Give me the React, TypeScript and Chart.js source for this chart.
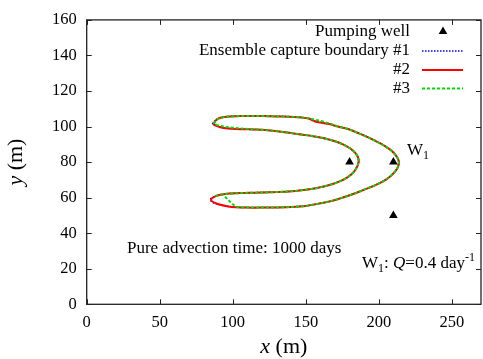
import React, { useEffect, useRef } from 'react';
import { Chart, registerables } from 'chart.js';

Chart.register(...registerables);

const FONT = '"Liberation Serif", "DejaVu Serif", serif';

const xTicks = [0, 50, 100, 150, 200, 250];
const yTicks = [0, 20, 40, 60, 80, 100, 120, 140, 160];
const xRange = [0, 270];
const yRange = [0, 160];

const wellX = [180, 210, 210];
const wellY = [80, 80, 50];

const legendLabels = ['Pumping well', 'Ensemble capture boundary #1', '#2', '#3'];
const seriesColors = ['#0000ff', '#ff0000', '#00dd00'];

const boundary1: [number, number][] = [
  [86.0, 101.5], [88.0, 103.5], [91, 104.9], [96, 105.6], [105, 106.0], [115, 106.1], [125, 105.9], [135, 105.7],
  [145, 105.4], [152, 104.6], [156, 103.2], [160, 102.4], [166, 101.5], [172, 100.1], [179, 98.7], [186, 96.4],
  [192, 94.3], [197, 92.3], [201, 90.6], [205, 88.7], [208.5, 86.7], [211.3, 84.3], [213.2, 81.9], [213.8, 79.6],
  [213.1, 77.2], [211.3, 74.8], [208, 72.1], [203.5, 69.4], [197, 66.8], [190, 64.5], [183, 62.2], [176, 60.2],
  [168, 58.2], [160, 56.8], [150, 55.3], [140, 54.7], [130, 54.5], [120, 54.4], [110, 54.4], [102, 54.6],
  [96, 55.2], [91, 56.0], [87, 57.0], [84.5, 58.5], [85.2, 59.6], [88, 60.8], [91.5, 61.6], [96, 62.2],
  [105, 62.6], [115, 62.8], [125, 63.0], [135, 63.3], [143, 63.8], [150, 64.4], [157, 65.3], [163, 66.4],
  [169, 67.8], [174, 69.4], [178, 71.1], [181.3, 73.1], [183.8, 75.4], [185.6, 78.1], [186.3, 80.6], [185.6, 83.1],
  [183.6, 85.5], [180.3, 87.8], [175.5, 90.0], [169.5, 91.9], [162.5, 93.4], [155, 94.6], [148, 95.4], [140, 96.3],
  [132, 97.2], [124, 97.9], [116, 98.3], [108, 98.5], [100, 98.7], [94, 99.2], [89.5, 100.2], [87.0, 100.9], [86.0, 101.5],
];

const boundary2: [number, number][] = [
  [86.8, 101.6], [88.5, 103.5], [91, 104.8], [96, 105.5], [105, 105.9], [115, 106.0], [125, 105.8], [135, 105.6],
  [145, 105.3], [152, 104.5], [156, 103.0], [160, 102.2], [166, 101.4], [172, 100.0], [179, 98.6], [186, 96.3],
  [192, 94.2], [197, 92.2], [201, 90.5], [205, 88.6], [208.5, 86.6], [211.3, 84.2], [213.2, 81.8], [213.8, 79.6],
  [213.1, 77.2], [211.3, 74.8], [208, 72.1], [203.5, 69.4], [197, 66.8], [190, 64.5], [183, 62.2], [176, 60.2],
  [168, 58.2], [160, 56.8], [150, 55.3], [140, 54.7], [130, 54.5], [120, 54.4], [110, 54.4], [102, 54.6],
  [96, 55.2], [91, 56.1], [87.5, 57.2], [85.2, 58.4], [85.6, 59.5], [88, 60.7], [91.5, 61.6], [96, 62.2],
  [105, 62.6], [115, 62.8], [125, 63.0], [135, 63.3], [143, 63.8], [150, 64.4], [157, 65.3], [163, 66.4],
  [169, 67.8], [174, 69.4], [178, 71.1], [181.3, 73.1], [183.8, 75.4], [185.6, 78.1], [186.3, 80.6], [185.6, 83.1],
  [183.6, 85.5], [180.3, 87.8], [175.5, 90.0], [169.5, 91.9], [162.5, 93.4], [155, 94.6], [148, 95.4], [140, 96.3],
  [132, 97.2], [124, 97.9], [116, 98.3], [108, 98.5], [100, 98.7], [94, 99.2], [89.5, 100.2], [87.5, 100.9], [86.8, 101.6],
];

const boundary3: [number, number][] = [
  [88.2, 60.9], [91.5, 61.7], [96, 62.2], [105, 62.6], [115, 62.8], [125, 63.0], [135, 63.3], [143, 63.8],
  [150, 64.4], [157, 65.3], [163, 66.4], [169, 67.8], [174, 69.4], [178, 71.1], [181.3, 73.1], [183.8, 75.4],
  [185.6, 78.1], [186.3, 80.6], [185.6, 83.1], [183.6, 85.5], [180.3, 87.8], [175.5, 90.0], [169.5, 91.9],
  [162.5, 93.4], [155, 94.6], [148, 95.4], [140, 96.3], [132, 97.2], [124, 97.9], [116, 98.4], [108, 98.8],
  [100, 99.3], [95, 99.8], [91, 100.4], [88.5, 101.0], [87.3, 101.8], [88.8, 103.7], [91.5, 104.9], [96, 105.6],
  [105, 105.9], [115, 106.0], [125, 105.8], [135, 105.6], [145, 105.3], [152, 104.6], [156, 103.9], [160, 103.3],
  [166, 101.8], [172, 100.1], [179, 98.6], [186, 96.3], [192, 94.2], [197, 92.2], [201, 90.5], [205, 88.6],
  [208.5, 86.6], [211.3, 84.2], [213.2, 81.8], [213.8, 79.6], [213.1, 77.2], [211.3, 74.8], [208, 72.1],
  [203.5, 69.4], [197, 66.8], [190, 64.5], [183, 62.2], [176, 60.2], [168, 58.2], [160, 56.8], [150, 55.3],
  [140, 54.7], [130, 54.5], [120, 54.4], [110, 54.4], [102.5, 54.8], [99.5, 56.6], [96.5, 59.0], [93.8, 61.3],
];

const toPoints = (arr: [number, number][]) => arr.map(([x, y]) => ({ x, y }));

function drawRich(ctx: CanvasRenderingContext2D, parts: { t: string; italic?: boolean; sub?: boolean; sup?: boolean }[], x: number, y: number, size: number, align: 'left' | 'right' | 'center') {
  const fontFor = (p: any) => `${p.italic ? 'italic ' : ''}${p.sub || p.sup ? Math.round(size * 0.7) : size}px ${FONT}`;
  let total = 0;
  for (const p of parts) { ctx.font = fontFor(p); total += ctx.measureText(p.t).width; }
  let cx = align === 'left' ? x : align === 'right' ? x - total : x - total / 2;
  ctx.textAlign = 'left';
  ctx.textBaseline = 'middle';
  for (const p of parts) {
    ctx.font = fontFor(p);
    const dy = p.sub ? size * 0.3 : p.sup ? -size * 0.35 : 0;
    ctx.fillText(p.t, cx, y + dy);
    cx += ctx.measureText(p.t).width;
  }
}

function triangle(ctx: CanvasRenderingContext2D, x: number, y: number, r: number) {
  ctx.beginPath();
  for (let i = 0; i < 3; i++) {
    const a = (i * 2 * Math.PI) / 3;
    const px = x + Math.sin(a) * r, py = y - Math.cos(a) * r;
    if (i === 0) ctx.moveTo(px, py); else ctx.lineTo(px, py);
  }
  ctx.closePath();
  ctx.fill();
}

const decor = {
  id: 'decor',
  afterDraw(chart: any) {
    const ctx: CanvasRenderingContext2D = chart.ctx;
    const { left, right, top, bottom } = chart.chartArea;
    const xs = chart.scales.x, ys = chart.scales.y;
    ctx.save();
    ctx.strokeStyle = '#222';
    ctx.lineWidth = 1.3;
    ctx.strokeRect(left, top, right - left, bottom - top);
    ctx.lineWidth = 1;
    ctx.beginPath();
    const tl = 5;
    for (const v of xTicks) {
      const px = Math.round(xs.getPixelForValue(v)) + 0.5;
      ctx.moveTo(px, bottom); ctx.lineTo(px, bottom - tl);
      ctx.moveTo(px, top); ctx.lineTo(px, top + tl);
    }
    for (const v of yTicks) {
      const py = Math.round(ys.getPixelForValue(v)) + 0.5;
      ctx.moveTo(left, py); ctx.lineTo(left + tl, py);
      ctx.moveTo(right, py); ctx.lineTo(right - tl, py);
    }
    ctx.stroke();

    ctx.fillStyle = '#000';
    // Legend
    const lx = 410, sx0 = 422, sx1 = 463;
    const rows = [32, 51, 70, 88.5];
    ctx.font = `17px ${FONT}`;
    ctx.textAlign = 'right';
    ctx.textBaseline = 'middle';
    legendLabels.forEach((t, i) => ctx.fillText(t, lx, rows[i]));
    triangle(ctx, 443, 31.5, 5);
    const dashes = [[1.5, 1.5], [], [3, 2]];
    const widths = [1.5, 2, 2];
    for (let i = 0; i < 3; i++) {
      ctx.strokeStyle = seriesColors[i];
      ctx.lineWidth = widths[i];
      ctx.setLineDash(dashes[i]);
      ctx.beginPath();
      ctx.moveTo(sx0, rows[i + 1]);
      ctx.lineTo(sx1, rows[i + 1]);
      ctx.stroke();
    }
    ctx.setLineDash([]);

    // Annotations
    drawRich(ctx, [{ t: 'Pure advection time: 1000 days' }], 127, 249, 17, 'left');
    drawRich(ctx, [{ t: 'W' }, { t: '1', sub: true }, { t: ': ' }, { t: 'Q', italic: true }, { t: '=0.4 day' }, { t: '-1', sup: true }], 475, 264, 17, 'right');
    drawRich(ctx, [{ t: 'W' }, { t: '1', sub: true }], 407, 151, 17, 'left');

    // Axis titles
    drawRich(ctx, [{ t: 'x', italic: true }, { t: ' (m)' }], (left + right) / 2, 347, 22, 'center');
    ctx.save();
    ctx.translate(16, (top + bottom) / 2);
    ctx.rotate(-Math.PI / 2);
    drawRich(ctx, [{ t: 'y', italic: true }, { t: ' (m)' }], 0, 0, 22, 'center');
    ctx.restore();
    ctx.restore();
  },
};

export default function App() {
  const ref = useRef<HTMLCanvasElement>(null);
  useEffect(() => {
    if (!ref.current) return;
    const chart = new Chart(ref.current, {
      type: 'scatter',
      data: {
        datasets: [
          { label: legendLabels[0], data: wellX.map((x, i) => ({ x, y: wellY[i] })), pointStyle: 'triangle', pointRadius: 5, backgroundColor: '#000', borderColor: '#000', borderWidth: 0, showLine: false, order: -1 },
          { label: legendLabels[1], data: toPoints(boundary1), showLine: true, borderColor: seriesColors[0], borderWidth: 1.5, borderDash: [1.5, 1.5], pointRadius: 0, order: 3 },
          { label: legendLabels[2], data: toPoints(boundary2), showLine: true, borderColor: seriesColors[1], borderWidth: 2, pointRadius: 0, order: 2, tension: 0.3 },
          { label: legendLabels[3], data: toPoints(boundary3), showLine: true, borderColor: seriesColors[2], borderWidth: 2, borderDash: [3, 2], pointRadius: 0, order: 1 },
        ] as any,
      },
      options: {
        animation: false,
        responsive: false,
        events: [],
        layout: { padding: { top: 17.3, right: 1.5, left: 0, bottom: 0 } },
        plugins: { legend: { display: false }, tooltip: { enabled: false } },
        scales: {
          x: {
            type: 'linear', min: xRange[0], max: xRange[1],
            afterBuildTicks: (s: any) => { s.ticks = xTicks.map((value) => ({ value })); },
            afterFit: (s: any) => { s.height = 54.7; },
            grid: { display: false, drawTicks: false },
            border: { display: false },
            ticks: { color: '#000', font: { family: FONT, size: 16.5 }, padding: 8.5, maxRotation: 0, autoSkip: false },
          },
          y: {
            type: 'linear', min: yRange[0], max: yRange[1],
            afterBuildTicks: (s: any) => { s.ticks = yTicks.map((value) => ({ value })); },
            afterFit: (s: any) => { s.width = 86.7; },
            grid: { display: false, drawTicks: false },
            border: { display: false },
            ticks: { color: '#000', font: { family: FONT, size: 16.5 }, padding: 10, autoSkip: false },
          },
        },
      } as any,
      plugins: [decor],
    });
    return () => chart.destroy();
  }, []);
  return (
    <div style={{ position: 'absolute', left: 0, top: 0, width: 483, height: 359, overflow: 'hidden', background: '#fff' }}>
      <canvas ref={ref} width={486} height={359} style={{ display: 'block', width: 486, height: 359 }} />
    </div>
  );
}
